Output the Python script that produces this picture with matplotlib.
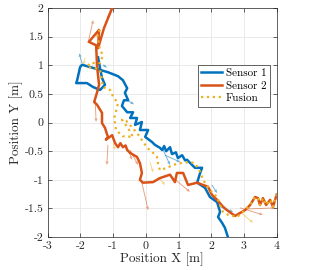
import matplotlib
matplotlib.use("Agg")
import matplotlib.pyplot as plt
import numpy as np

# trajectories (metres)
s1_x = [-1.46, -1.40, -1.34, -1.25, -1.40, -1.61, -1.80, -2.13, -2.10, -2.01, -1.95, -1.40, -1.16, -0.85,
        -0.70, -0.57, -0.64, -0.54, -0.67, -0.73, -0.57, -0.39, -0.48, -0.27, -0.33, -0.12, -0.18, 0.07,
        -0.02, 0.19, 0.28, 0.43, 0.50, 0.56, 0.62, 0.74, 0.80, 0.92, 0.98, 1.11, 1.20, 1.26, 1.50, 1.72,
        1.66, 1.57, 1.81, 1.96, 2.18, 2.27, 2.21, 2.33, 2.42, 2.51, 2.56]
s1_y = [1.14, 0.95, 0.78, 0.66, 0.57, 0.62, 0.69, 0.69, 0.74, 0.97, 1.01, 0.92, 0.88, 0.81,
        0.74, 0.60, 0.52, 0.39, 0.39, 0.29, 0.18, 0.18, 0.08, 0.08, -0.04, 0.01, -0.13, -0.13,
        -0.25, -0.34, -0.39, -0.44, -0.48, -0.41, -0.50, -0.43, -0.55, -0.52, -0.62, -0.57, -0.66, -0.65, -0.79, -0.79,
        -0.88, -1.05, -1.14, -1.30, -1.39, -1.56, -1.65, -1.75, -1.84, -2.00, -2.10]

s2_x = [-1.03, -1.28, -1.46, -1.43, -1.74, -1.52, -1.49, -1.43, -1.49, -1.58, -1.49, -1.34, -1.34, -1.25,
        -1.16, -1.22, -1.03, -0.94, -0.85, -0.78, -0.70, -0.62, -0.57, -0.48, -0.27, -0.18, -0.12, -0.18,
        -0.09, 0.22, 0.43, 0.74, 0.89, 0.95, 1.14, 1.29, 1.57, 1.75, 1.90, 2.02, 2.18, 2.36, 2.48,
        2.73, 2.88, 3.03, 3.19, 3.34, 3.43, 3.49, 3.58, 3.68, 3.80, 3.89, 4.00]
s2_y = [2.00, 1.65, 1.30, 1.62, 1.41, 1.35, 0.97, 0.66, 0.53, 0.36, 0.31, 0.17, -0.01, -0.09,
        -0.25, -0.30, -0.22, -0.36, -0.43, -0.36, -0.43, -0.40, -0.48, -0.53, -0.60, -0.71, -0.88, -1.00,
        -1.05, -1.04, -0.97, -0.91, -1.04, -0.88, -0.88, -1.09, -1.05, -1.09, -1.12, -1.26, -1.35, -1.47, -1.53,
        -1.63, -1.58, -1.53, -1.44, -1.30, -1.32, -1.44, -1.32, -1.44, -1.35, -1.47, -1.26]

fu_x = [-1.40, -1.49, -1.40, -1.31, -1.40, -1.71, -1.80, -1.55, -1.40, -1.34, -1.31, -1.09, -1.00, -0.85,
        -0.97, -0.91, -0.70, -0.39, -0.54, -0.73, -0.60, -0.27, 0.04, 0.19, 0.34, 0.37, 0.43, 0.65,
        0.83, 1.05, 1.35, 1.50, 1.66, 1.75, 1.96, 2.18, 2.27, 2.36, 2.51, 2.79, 2.97, 3.19, 3.34,
        3.43, 3.49, 3.58, 3.68, 3.80, 3.89, 4.00]
fu_y = [1.62, 1.56, 1.27, 1.18, 1.04, 1.04, 0.97, 0.95, 0.92, 0.74, 0.62, 0.57, 0.45, 0.34,
        0.07, -0.13, -0.24, -0.25, -0.10, 0.05, 0.03, -0.18, -0.44, -0.51, -0.60, -0.71, -0.83, -0.79,
        -0.74, -0.71, -0.69, -0.71, -0.86, -1.00, -1.18, -1.30, -1.44, -1.56, -1.61, -1.65, -1.56, -1.44, -1.30,
        -1.32, -1.44, -1.32, -1.44, -1.35, -1.47, -1.26]

# heading arrows (base x, base y, dx, dy)
a1_x = [-1.95, -1.31, -0.57, 0.53, 0.59, 2.02, 2.27]
a1_y = [1.04, 1.01, 0.39, -0.48, -0.57, -1.09, -1.47]
a1_u = [-0.09, 0.12, 0.21, 0.21, 0.46, 0.16, 0.40]
a1_v = [0.17, -0.05, -0.07, -0.26, -0.12, -0.14, -0.09]

a2_x = [-1.19, -1.77, -1.55, -1.16, -0.57, -0.48, -0.12, 0.80, 2.88, 3.09]
a2_y = [1.83, 1.39, 0.39, -0.39, -0.44, -0.48, -1.05, -0.95, -1.49, -1.51]
a2_u = [0.16, 0.16, 0.03, -0.03, 0.15, 0.24, 0.19, 0.55, 0.70, 0.86]
a2_v = [0.17, 0.40, -0.38, -0.35, -0.21, -0.26, -0.48, -0.26, -0.12, 0.02]

a3_x = [-1.86, -1.00, 0.13, 0.37, 2.88]
a3_y = [1.13, -0.36, -0.69, -0.95, -1.56]
a3_u = [-0.05, 0.06, 0.09, 0.22, 0.40]
a3_v = [-0.12, -0.12, -0.18, -0.14, -0.19]

plt.rcParams['font.family'] = 'cmr10'
plt.rcParams['axes.unicode_minus'] = False
plt.rcParams['mathtext.fontset'] = 'cm'

c1 = '#0072BD'
c2 = '#D95319'
c3 = '#EDB120'

fig = plt.figure(figsize=(3.14, 2.70), dpi=100)
ax = fig.add_axes([0.152, 0.122, 0.729, 0.848])

q = dict(angles='xy', scale_units='xy', scale=1, width=0.004, headwidth=3.5,
         headlength=4, headaxislength=3.5, alpha=0.55, zorder=2)
ax.quiver(a1_x, a1_y, a1_u, a1_v, color=c1, **q)
ax.quiver(a2_x, a2_y, a2_u, a2_v, color=c2, **q)
ax.quiver(a3_x, a3_y, a3_u, a3_v, color=c3, **q)

ax.plot(s1_x, s1_y, color=c1, lw=1.8, label='Sensor 1', zorder=3)
ax.plot(s2_x, s2_y, color=c2, lw=1.8, label='Sensor 2', zorder=3)
ax.plot(fu_x, fu_y, color=c3, lw=1.6, ls=':', label='Fusion', zorder=4)

ax.set_xlim(-3, 4)
ax.set_ylim(-2, 2)
ax.set_xticks(np.arange(-3, 5, 1))
ax.set_yticks(np.arange(-2, 2.5, 0.5))
ax.set_yticklabels(['-2', '-1.5', '-1', '-0.5', '0', '0.5', '1', '1.5', '2'])
ax.grid(True, color='#e6e6e6', lw=0.6)
ax.set_axisbelow(True)
ax.tick_params(direction='in', top=True, right=True, labelsize=8.5, length=3, width=0.5,
               color='#262626', labelcolor='#262626', pad=3)
for s in ax.spines.values():
    s.set_color('#262626')
    s.set_linewidth(0.5)

ax.set_xlabel('Position X [m]', fontsize=9.5, color='#262626', labelpad=1)
ax.set_ylabel('Position Y [m]', fontsize=9.5, color='#262626', labelpad=1)

leg = ax.legend(loc='upper left', bbox_to_anchor=(0.656, 0.751), fontsize=8,
                handlelength=1.9, handletextpad=0.3, borderpad=0.3, labelspacing=0.25,
                fancybox=False, framealpha=1, borderaxespad=0)
leg.get_frame().set_edgecolor('#262626')
leg.get_frame().set_linewidth(0.5)

fig.savefig('out.png', dpi=100)
